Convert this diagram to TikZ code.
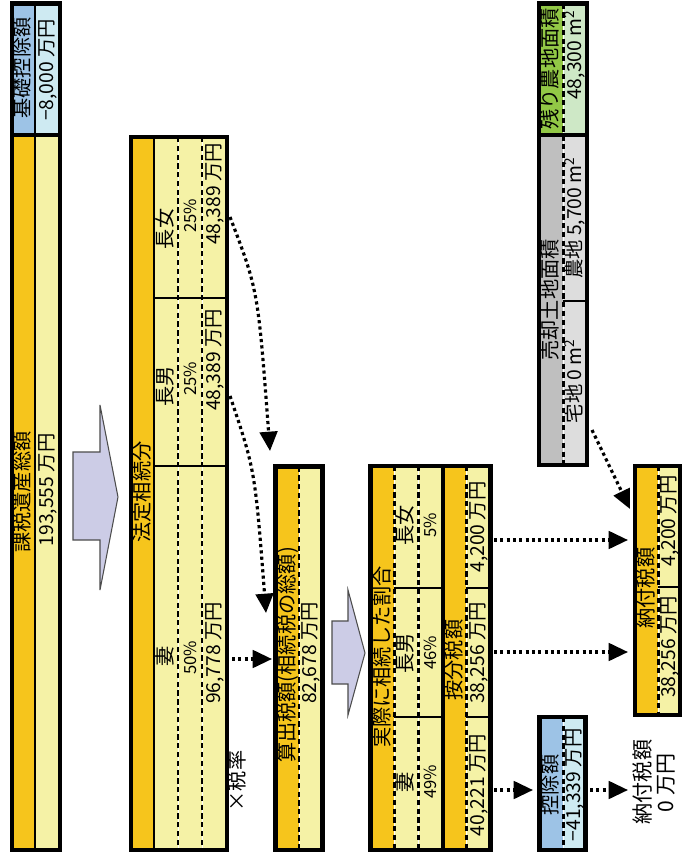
\documentclass[tikz,border=0pt]{standalone}
\usepackage{fontspec}
\setmainfont{Noto Sans CJK JP}
\usepackage{tikz}
\usetikzlibrary{arrows.meta}
\definecolor{hdr}{RGB}{246,197,28}
\definecolor{paley}{RGB}{245,242,166}
\definecolor{blueh}{RGB}{157,195,230}
\definecolor{cyanl}{RGB}{206,234,242}
\definecolor{greenh}{RGB}{146,200,70}
\definecolor{greenl}{RGB}{206,232,198}
\definecolor{grayh}{RGB}{191,191,191}
\definecolor{grayl}{RGB}{221,221,221}
\definecolor{lavender}{RGB}{204,204,230}

\begin{document}
\begin{tikzpicture}[
x=0.02cm, y=-0.02cm, >={Triangle[length=11pt,width=10pt]},
frame/.style={line width=2.3pt},
solidsep/.style={line width=1.1pt},
heavysep/.style={line width=2.3pt},
dashsep/.style={line width=1.7pt, dash pattern=on 3pt off 2pt, preaction={draw=white, solid}},
lbl/.style={rotate=90, inner sep=0pt, text height=0.8em, text depth=0.1em, font=\fontsize{11.5}{12}\selectfont},
val/.style={rotate=90, inner sep=0pt, text height=0.75em, text depth=0.05em, font=\fontsize{11}{12}\selectfont},
pct/.style={rotate=90, inner sep=0pt, text height=0.75em, text depth=0.05em, font=\fontsize{9.5}{10}\selectfont},
dots/.style={->, line width=1.8pt, dash pattern=on 1.8pt off 1.8pt},
blockarrow/.style={fill=lavender, draw=black!70, line width=0.6pt}
	]
	\useasboundingbox (0,0) rectangle (682,854);
	% Column 1: basic deduction and taxable estate
	\fill[blueh] (12,3.5) rectangle (35,135);
	\fill[cyanl] (35,3.5) rectangle (60,135);
	\fill[hdr] (12,135) rectangle (35,850);
	\fill[paley] (35,135) rectangle (60,850);
	\draw[solidsep, line width=1.6pt] (35,3.5) -- (35,850);
	\draw[heavysep] (12,135) -- (60,135);
	\draw[frame] (12,3.5) rectangle (60,850);
	\node[lbl] (kiso) at (23.5,68) {基礎控除額};
	\node[val] (kisoV) at (47,70) {−8,000 万円};
	\node[lbl] (kazei) at (23.5,492) {課税遺産総額};
	\node[val] (kazeiV) at (47,490) {193,555 万円};
	% Big arrow
	\draw[blockarrow] (73,452) -- (100,452) -- (100,405) -- (118,497) -- (100,590) -- (100,540) -- (73,540) -- cycle;
	% Column 2: legal shares
	\fill[hdr] (131,137) rectangle (154,850);
	\fill[paley] (154,137) rectangle (227,850);
	\draw[dashsep] (178,137) -- (178,850);
	\draw[dashsep] (202,137) -- (202,850);
	\draw[solidsep] (154,298) -- (227,298);
	\draw[solidsep] (154,466) -- (227,466);
	\draw[solidsep] (154,137) -- (154,850);
	\draw[frame] (131,137) rectangle (227,850);
	\node[lbl] (hotei) at (143,492) {法定相続分};
	\node[lbl] (jojo) at (166,229) {長女};
	\node[pct] (jojoP) at (190,216) {25\%};
	\node[val] (jojoV) at (214,194) {48,389 万円};
	\node[lbl] (nan) at (166,386) {長男};
	\node[pct] (nanP) at (190,379) {25\%};
	\node[val] (nanV) at (214,360) {48,389 万円};
	\node[lbl] (tsuma) at (166,656) {妻};
	\node[pct] (tsumaP) at (190,658) {50\%};
	\node[val] (tsumaV) at (214,653) {96,778 万円};
	\node[lbl] (ritsu) at (238,781) {×税率};
	% Column 3: computed tax
	\fill[hdr] (275.5,466.5) rectangle (299,850);
	\fill[paley] (299,466.5) rectangle (322.5,850);
	\draw[dashsep] (299,466.5) -- (299,850);
	\draw[frame] (275.5,466.5) rectangle (322.5,850);
	\node[lbl] (sanshutsu) at (288,655) {算出税額(相続税の総額)};
	\node[val] (sanshutsuV) at (310,653) {82,678 万円};
	% Small arrow
	\draw[blockarrow] (332,621) -- (348,621) -- (348,590) -- (365,653) -- (348,715) -- (348,684) -- (332,684) -- cycle;
	% Column 4: actual shares and apportioned tax
	\fill[hdr] (370.5,466) rectangle (394,850);
	\fill[paley] (394,466) rectangle (443,850);
	\fill[hdr] (443,466) rectangle (466,850);
	\fill[paley] (466,466) rectangle (490.5,850);
	\draw[dashsep] (394,466) -- (394,850);
	\draw[dashsep] (418,466) -- (418,850);
	\draw[dashsep] (466,466) -- (466,850);
	\draw[solidsep] (394,588) -- (443,588);
	\draw[solidsep] (394,717) -- (443,717);
	\draw[solidsep] (466,588) -- (490.5,588);
	\draw[solidsep] (466,717) -- (490.5,717);
	\draw[heavysep, line width=1.8pt] (443,466) -- (443,850);
	\draw[frame] (370.5,466) rectangle (490.5,850);
	\node[lbl] (jissai) at (383,657) {実際に相続した割合};
	\node[lbl] (anbun) at (455,660) {按分税額};
	\node[lbl] (jojo2) at (406,525) {長女};
	\node[pct] (jojo2P) at (430,525) {5\%};
	\node[val] (jojo2V) at (478,527) {4,200 万円};
	\node[lbl] (nan2) at (406,653) {長男};
	\node[pct] (nan2P) at (430,653) {46\%};
	\node[val] (nan2V) at (478,653) {38,256 万円};
	\node[lbl] (tsuma2) at (406,782) {妻};
	\node[pct] (tsuma2P) at (430,782) {49\%};
	\node[val] (tsuma2V) at (478,785) {40,221 万円};
	% Column 5: land areas and deduction
	\fill[greenh] (539,3.5) rectangle (563,135);
	\fill[greenl] (563,3.5) rectangle (587,135);
	\fill[grayh] (539,135) rectangle (563,465);
	\fill[grayl] (563,135) rectangle (587,465);
	\draw[dashsep] (563,3.5) -- (563,465);
	\draw[solidsep] (563,301) -- (587,301);
	\draw[heavysep] (539,135) -- (587,135);
	\draw[frame] (539,3.5) rectangle (587,465);
	\node[lbl] (nokori) at (551,69) {残り農地面積};
	\node[val] (nokoriV) at (575,55) {48,300 m\textsuperscript{2}};
	\node[lbl] (baikyaku) at (551,300) {売却土地面積};
	\node[val] (nochi) at (575,218) {農地 5,700 m\textsuperscript{2}};
	\node[val] (takuchi) at (575,381) {宅地 0 m\textsuperscript{2}};
	\fill[blueh] (539.5,717) rectangle (563,850);
	\fill[cyanl] (563,717) rectangle (585.5,850);
	\draw[dashsep] (563,717) -- (563,850);
	\draw[frame] (539.5,717) rectangle (585.5,850);
	\node[lbl] (kojo) at (551,785) {控除額};
	\node[val] (kojoV) at (574.5,785) {−41,339 万円};
	% Column 6: tax payable
	\fill[hdr] (635,466) rectangle (658,715);
	\fill[paley] (658,466) rectangle (680,715);
	\draw[dashsep] (658,466) -- (658,715);
	\draw[solidsep] (658,587) -- (680,587);
	\draw[frame] (635,466) rectangle (680,715);
	\node[lbl] (nofu) at (647,588) {納付税額};
	\node[val] (nofuJo) at (669,521) {4,200 万円};
	\node[val] (nofuNan) at (669,647) {38,256 万円};
	\node[lbl, font=\fontsize{12}{12}\selectfont] (zero) at (644,782) {納付税額};
	\node[val, font=\fontsize{12}{12}\selectfont] (zeroV) at (667,783) {0 万円};
	% Connectors
	\coordinate (bJo) at (230,217);
	\coordinate (cJo) at (270,451);
	\coordinate (bNan) at (230,396);
	\coordinate (cNan) at (266,613);
	\coordinate (bTsuma) at (232,659);
	\coordinate (cTsuma) at (272,659);
	\coordinate (dJo) at (494,540);
	\coordinate (gJo) at (628,540);
	\coordinate (dNan) at (494,652);
	\coordinate (gNan) at (628,652);
	\coordinate (dTsuma) at (494,790);
	\coordinate (eIn) at (533,790);
	\coordinate (eOut) at (590,790);
	\coordinate (zeroIn) at (628,790);
	\coordinate (fOut) at (592,430);
	\coordinate (gIn) at (630,509);
	\draw[dots] (bJo) .. controls (258,290) .. (cJo);
	\draw[dots] (bNan) .. controls (255,470) .. (cNan);
	\draw[dots] (bTsuma) -- (cTsuma);
	\draw[dots] (dJo) -- (gJo);
	\draw[dots] (dNan) -- (gNan);
	\draw[dots] (dTsuma) -- (eIn);
	\draw[dots] (eOut) -- (zeroIn);
	\draw[dots] (fOut) -- (gIn);
\end{tikzpicture}
\end{document}
